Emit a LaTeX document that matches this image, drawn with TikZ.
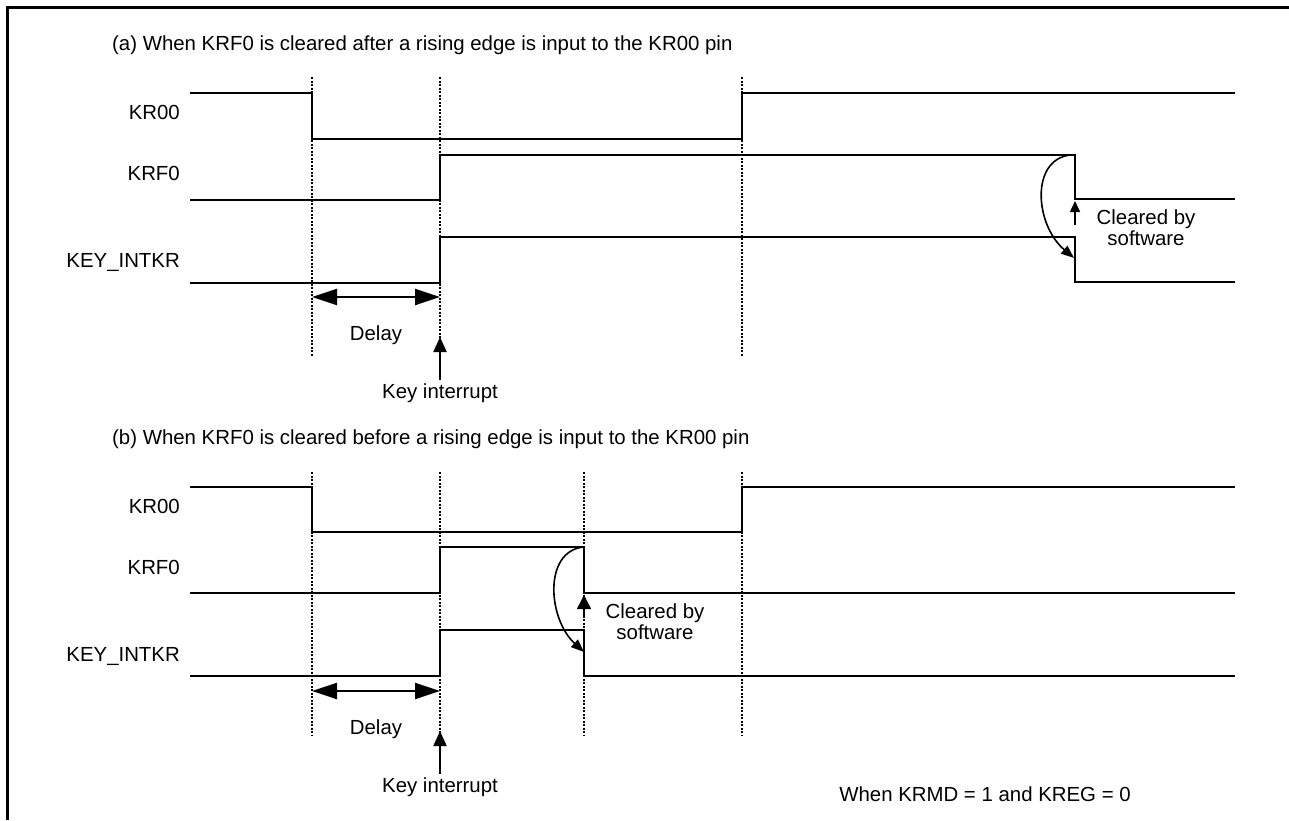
\documentclass[tikz,border=0pt]{standalone}
\usepackage{fontspec}
\setmainfont{Liberation Sans}
\usetikzlibrary{arrows.meta}
\begin{document}
\begin{tikzpicture}[x=1pt,y=-1pt,
  sig/.style={line width=2.7pt, line join=miter, line cap=butt},
  guide/.style={line width=1.5pt, dash pattern=on 2pt off 1.5pt},
  txt/.style={inner sep=0pt, font=\fontsize{20.4}{21}\selectfont},
  lab/.style={txt, text height=14.6pt, text depth=0pt},
  delayarr/.style={line width=2.3pt, {Triangle[length=25pt,width=16pt]}-{Triangle[length=25pt,width=16pt]}},
  keyarr/.style={line width=2pt, -{Triangle[length=15pt,width=13pt]}},
  curvearr/.style={line width=1.6pt, -{Triangle[length=13pt,width=10pt]}},
  uparr/.style={line width=1.6pt, -{Triangle[length=11pt,width=10pt]}},
  uparrbig/.style={line width=1.6pt, -{Triangle[length=14pt,width=14pt]}},
  framel/.style={line width=3pt}]
\useasboundingbox[fill=white] (0,0) rectangle (1289,820);
\draw[framel] (7,820) -- (7,7) -- (1289,7);

% ---------- (a) ----------
\node[lab, anchor=west] (ta) at (112,43) {(a) When KRF0 is cleared after a rising edge is input to the KR00 pin};
\node[lab, anchor=east] (la1) at (180,112) {KR00};
\node[lab, anchor=east] (la2) at (180,173) {KRF0};
\node[lab, anchor=east] (la3) at (180,260) {KEY\_INTKR};

\foreach \x in {312,440,742} \draw[guide] (\x,77) -- (\x,357);

\draw[sig] (190,93) -- (312,93) -- (312,139) -- (742,139) -- (742,93) -- (1235,93);
\draw[sig] (190,200) -- (440,200) -- (440,155) -- (1075,155) -- (1075,199) -- (1235,199);
\draw[sig] (190,283) -- (440,283) -- (440,237) -- (1075,237) -- (1075,282) -- (1235,282);

\coordinate (da1) at (312,297);
\coordinate (da2) at (440,297);
\draw[delayarr] (da1) -- (da2);
\node[lab] (dla) at (376,333) {Delay};
\node[lab] (kia) at (440,391) {Key interrupt};
\coordinate (kta) at (440,337);
\draw[keyarr] (kia.north) ++(0,-4) -- (kta);

\coordinate (ca1) at (1070,155);
\coordinate (ca2) at (1074,258);
\draw[curvearr] (ca1) .. controls (1030,160) and (1035,225) .. (ca2);
\coordinate (ua1) at (1075,225);
\coordinate (ua2) at (1075,201);
\draw[uparr] (ua1) -- (ua2);
\node[txt, align=center, anchor=north] (cla) at (1146,209.5) {Cleared by\\software};

% ---------- (b) ----------
\node[lab, anchor=west] (tb) at (112,437) {(b) When KRF0 is cleared before a rising edge is input to the KR00 pin};
\node[lab, anchor=east] (lb1) at (180,506) {KR00};
\node[lab, anchor=east] (lb2) at (180,567) {KRF0};
\node[lab, anchor=east] (lb3) at (180,654) {KEY\_INTKR};

\foreach \x in {312,440,584,742} \draw[guide] (\x,472) -- (\x,735);

\draw[sig] (190,487) -- (312,487) -- (312,532) -- (742,532) -- (742,487) -- (1235,487);
\draw[sig] (190,593) -- (440,593) -- (440,547) -- (584,547) -- (584,593) -- (1235,593);
\draw[sig] (190,676) -- (440,676) -- (440,630) -- (584,630) -- (584,676) -- (1235,676);

\coordinate (db1) at (312,691);
\coordinate (db2) at (440,691);
\draw[delayarr] (db1) -- (db2);
\node[lab] (dlb) at (376,727) {Delay};
\node[lab] (kib) at (440,785) {Key interrupt};
\coordinate (ktb) at (440,731);
\draw[keyarr] (kib.north) ++(0,-4) -- (ktb);

\coordinate (cb1) at (583,547);
\coordinate (cb2) at (584,652);
\draw[curvearr] (cb1) .. controls (543,552) and (548,619) .. (cb2);
\coordinate (ub1) at (584,618);
\coordinate (ub2) at (584,595);
\draw[uparrbig] (ub1) -- (ub2);
\node[txt, align=center, anchor=north] (clb) at (655,603.5) {Cleared by\\software};

\node[lab] (cond) at (985,794) {When KRMD = 1 and KREG = 0};
\end{tikzpicture}
\end{document}
